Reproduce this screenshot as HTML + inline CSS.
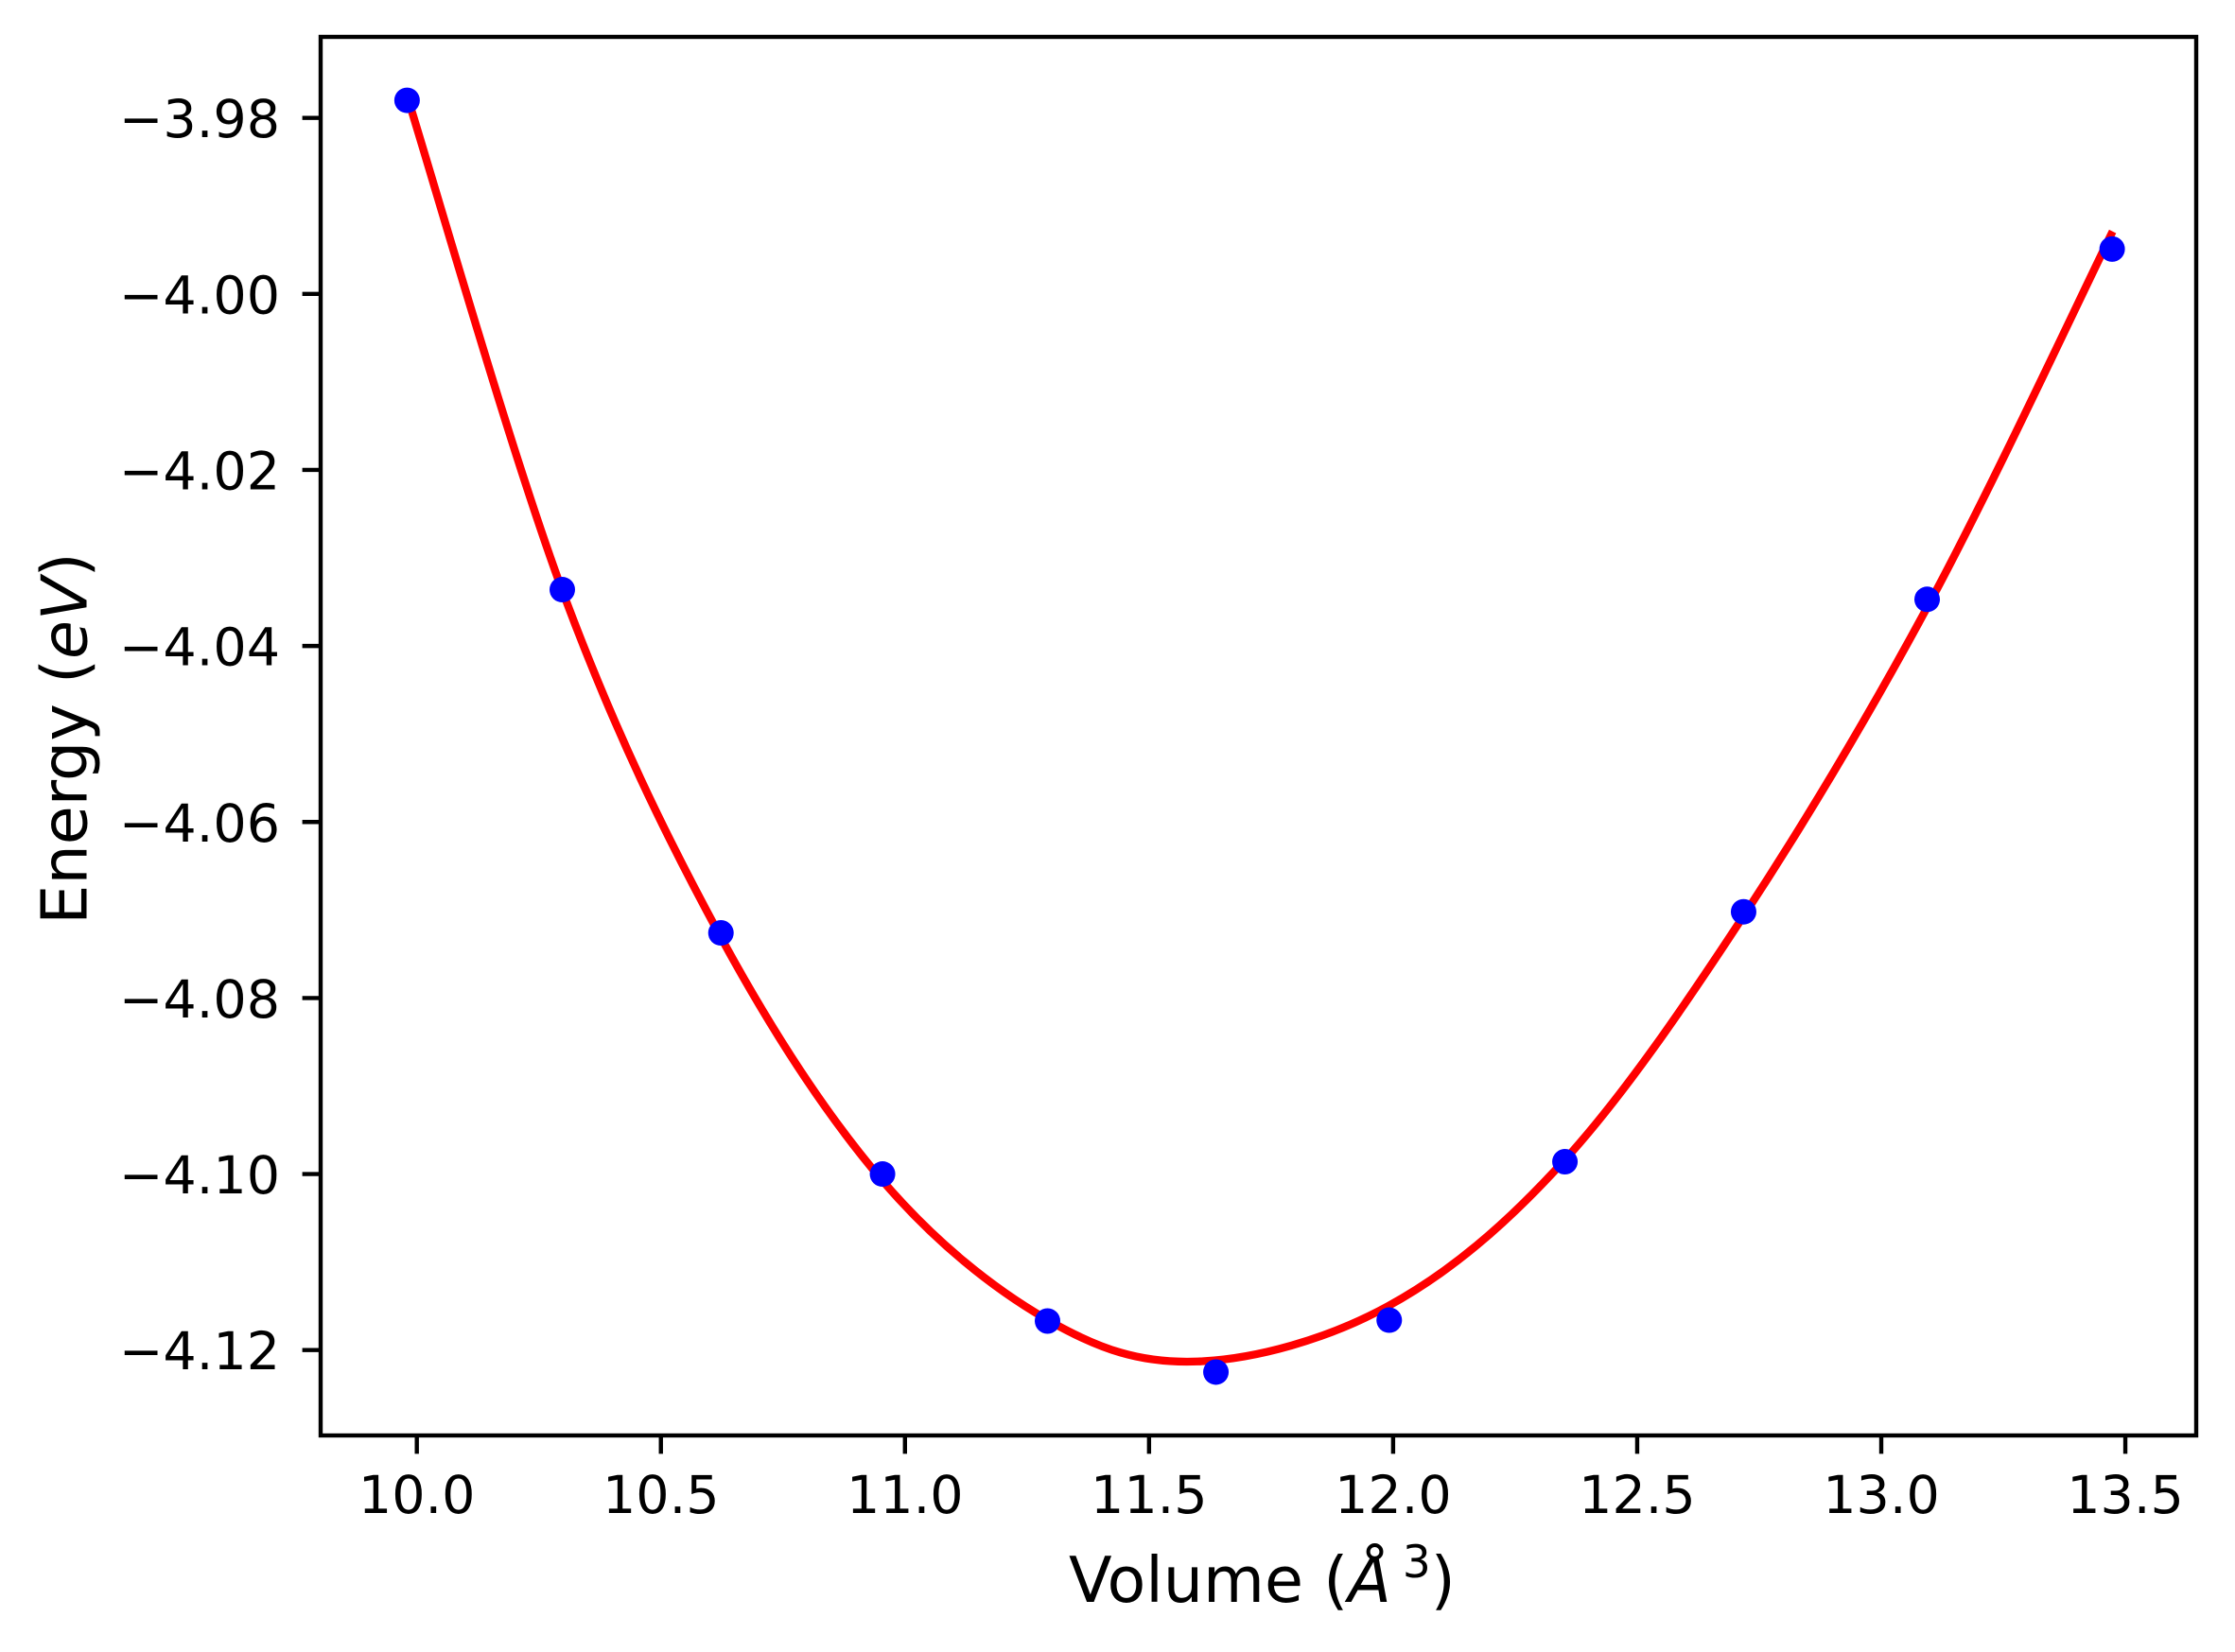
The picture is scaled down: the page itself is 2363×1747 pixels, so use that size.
<!DOCTYPE html>
<html><head><meta charset="utf-8"><style>
html,body{margin:0;padding:0;background:#fff}
svg{display:block}
text{font-family:"DejaVu Sans","Liberation Sans",sans-serif;fill:#000}
</style></head><body>
<svg id="chart" width="2363" height="1747" viewBox="0 0 2363 1747" xmlns="http://www.w3.org/2000/svg">
<rect x="0" y="0" width="2363" height="1747" fill="#fff"/>
<g id="plot"></g>
<g id="axes"></g>
</svg>
<script>
const pointVolumes = [9.980, 10.298, 10.623, 10.954, 11.292, 11.637, 11.992, 12.352, 12.718, 13.094, 13.473];
const pointEnergies = [-3.9780, -4.0336, -4.0726, -4.1000, -4.1167, -4.1225, -4.1166, -4.0986, -4.0702, -4.0347, -3.9949];
const fitVolumes = [9.980, 10.300, 10.620, 10.950, 11.290, 11.600, 11.990, 12.350, 12.720, 13.100, 13.474];
const fitEnergies = [-3.9775, -4.0340, -4.0728, -4.1005, -4.1165, -4.1213, -4.1150, -4.0985, -4.0705, -4.0350, -3.9929];
const xTicks = [10.0, 10.5, 11.0, 11.5, 12.0, 12.5, 13.0, 13.5];
const xTickLabels = ["10.0","10.5","11.0","11.5","12.0","12.5","13.0","13.5"];
const yTicks = [-3.98, -4.00, -4.02, -4.04, -4.06, -4.08, -4.10, -4.12];
const yTickLabels = ["\u22123.98","\u22124.00","\u22124.02","\u22124.04","\u22124.06","\u22124.08","\u22124.10","\u22124.12"];

const L=339, R=2322, T=39, B=1518;
function sx(v){ return 440.7 + (v-10.0)*516.1; }
function sy(e){ return 124.7 + (-3.98 - e)/0.02*186.14; }
const NS='http://www.w3.org/2000/svg';
function mk(tag, attrs, parent){ const el=document.createElementNS(NS,tag); for(const k in attrs) el.setAttribute(k, attrs[k]); parent.appendChild(el); return el; }
const plot=document.getElementById('plot'), axes=document.getElementById('axes');

const P = fitVolumes.map((v,i)=>[sx(v), sy(fitEnergies[i])]);
let d = 'M'+P[0][0].toFixed(2)+','+P[0][1].toFixed(2);
for(let i=0;i<P.length-1;i++){
  const p0=P[Math.max(0,i-1)], p1=P[i], p2=P[i+1], p3=P[Math.min(P.length-1,i+2)];
  const c1=[p1[0]+(p2[0]-p0[0])/6, p1[1]+(p2[1]-p0[1])/6];
  const c2=[p2[0]-(p3[0]-p1[0])/6, p2[1]-(p3[1]-p1[1])/6];
  d+=' C'+c1[0].toFixed(2)+','+c1[1].toFixed(2)+' '+c2[0].toFixed(2)+','+c2[1].toFixed(2)+' '+p2[0].toFixed(2)+','+p2[1].toFixed(2);
}
const fit = mk('path',{d:d, fill:'none', stroke:'#ff0000', 'stroke-width':'8.3'}, plot);



pointVolumes.forEach((v,i)=>{
  const c = mk('circle',{cx:sx(v), cy:sy(pointEnergies[i]), r:13.5, fill:'#0000ff'}, plot);
  
  
});

const frame = mk('rect',{x:L, y:T, width:R-L, height:B-T, fill:'none', stroke:'#000', 'stroke-width':'4.4'}, axes);



xTicks.forEach((v,i)=>{
  const x=sx(v);
  const t = mk('line',{x1:x, y1:B, x2:x, y2:B+19.4, stroke:'#000', 'stroke-width':'4.4'}, axes);
  
  
  const lb = mk('text',{x:x, y:1600, 'font-size':'55.5', 'text-anchor':'middle'}, axes);
  lb.textContent = xTickLabels[i];
  
  
});
yTicks.forEach((v,i)=>{
  const y=sy(v);
  const t = mk('line',{x1:L-19.4, y1:y, x2:L, y2:y, stroke:'#000', 'stroke-width':'4.4'}, axes);
  
  
  const lb = mk('text',{x:296, y:y+20.5, 'font-size':'55.5', 'text-anchor':'end'}, axes);
  lb.textContent = yTickLabels[i];
  
  
});
</script>
<svg style="position:absolute;left:0;top:0" width="2363" height="1747" xmlns="http://www.w3.org/2000/svg">
<text x="1130" y="1694" font-size="66.7" text-anchor="start" style="font-family:'DejaVu Sans','Liberation Sans',sans-serif">Volume (<tspan font-style="italic">Å</tspan><tspan font-size="47" dx="12" dy="-26">3</tspan><tspan dy="26">)</tspan></text>
<text transform="translate(91.7,781) rotate(-90)" x="0" y="0" font-size="66.7" text-anchor="middle" style="font-family:'DejaVu Sans','Liberation Sans',sans-serif">Energy (<tspan font-style="italic">eV</tspan>)</text>
</svg>
</body></html>
